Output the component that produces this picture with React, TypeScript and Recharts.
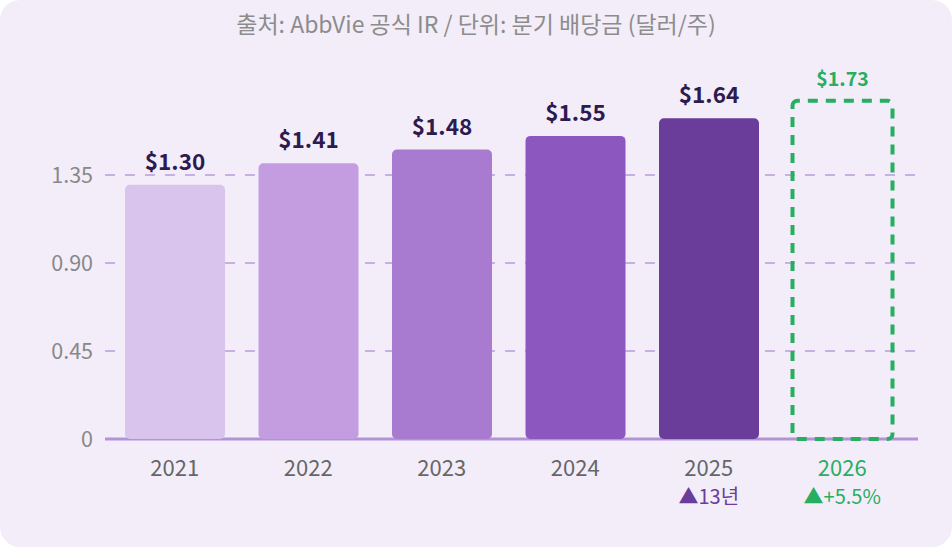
import { BarChart, Bar, XAxis, YAxis, CartesianGrid, Cell, LabelList, ReferenceLine } from 'recharts';

const years = ['2021', '2022', '2023', '2024', '2025', '2026'];
const dividends = [1.3, 1.41, 1.48, 1.55, 1.64, 1.73];
const notes = ['', '', '', '', '▲13년', '▲+5.5%'];
const yTicks = [0, 0.45, 0.9, 1.35];

const barColors = ['#d9c4ee', '#c39ddf', '#a97bd0', '#8c57be', '#6a3d9b', 'none'];
const GREEN = '#27ae60';
const FONT = '"Noto Sans CJK KR", "Noto Sans", sans-serif';

const data = years.map((year, i) => ({
  year,
  value: dividends[i],
  projected: i === years.length - 1,
}));

function YearTick(props: any) {
  const { x, y, payload, index } = props;
  const projected = index === years.length - 1;
  const note = notes[index];
  return (
    <g>
      <text x={x} y={y + 29} textAnchor="middle" fontSize={22} fontFamily={FONT} fill={projected ? GREEN : '#666'}>
        {payload.value}
      </text>
      {note && (
        <text x={x} y={y + 57} textAnchor="middle" fontSize={20} fontFamily={FONT} fill={projected ? GREEN : '#6a3d9b'}>
          {note}
        </text>
      )}
    </g>
  );
}

function ValueLabel(props: any) {
  const { x, y, width, value, index } = props;
  const projected = index === years.length - 1;
  return (
    <text
      x={x + width / 2}
      y={y - 15}
      textAnchor="middle"
      fontSize={projected ? 19.5 : 22.5}
      fontWeight={700}
      fontFamily={FONT}
      fill={projected ? GREEN : '#2d1a4f'}
    >
      ${Number(value).toFixed(2)}
    </text>
  );
}

export default function App() {
  return (
    <div
      style={{
        position: 'absolute',
        left: 0,
        top: 0,
        width: 952,
        height: 547,
        background: '#f3edf9',
        borderRadius: 20,
        overflow: 'hidden',
        fontFamily: FONT,
      }}
    >
      <div
        style={{
          position: 'absolute',
          top: 6,
          width: '100%',
          textAlign: 'center',
          fontSize: 23,
          color: '#8c8c8c',
        }}
      >
        출처: AbbVie 공식 IR / 단위: 분기 배당금 (달러/주)
      </div>
      <BarChart
        width={952}
        height={547}
        data={data}
        margin={{ top: 87, right: 34, left: 0, bottom: 78 }}
        barSize={100}
      >
        <CartesianGrid
          vertical={false}
          horizontalValues={[0.45, 0.9, 1.35]}
          stroke="#c8b0e4"
          strokeWidth={2}
          strokeDasharray="10 10"
        />
        <XAxis
          dataKey="year"
          axisLine={false}
          tickLine={false}
          tick={<YearTick />}
          padding={{ left: 3, right: 9 }}
          interval={0}
        />
        <YAxis
          width={105}
          domain={[0, 1.8]}
          ticks={yTicks}
          axisLine={false}
          tickLine={false}
          tickSize={0}
          tickMargin={12}
          tick={{ fontSize: 21.5, fill: '#888', fontFamily: FONT }}
          tickFormatter={(v: number) => (v === 0 ? '0' : v.toFixed(2))}
        />
        <ReferenceLine y={0} stroke="#b393d8" strokeWidth={3} zIndex={250} />
        <Bar dataKey="value" radius={[5, 5, 5, 5]} isAnimationActive={false}>
          {data.map((d, i) => (
            <Cell
              key={d.year}
              fill={barColors[i]}
              stroke={d.projected ? GREEN : 'none'}
              strokeWidth={d.projected ? 4 : 0}
              strokeDasharray={d.projected ? '10 8' : undefined}
            />
          ))}
          <LabelList dataKey="value" content={<ValueLabel />} />
        </Bar>
      </BarChart>
    </div>
  );
}
